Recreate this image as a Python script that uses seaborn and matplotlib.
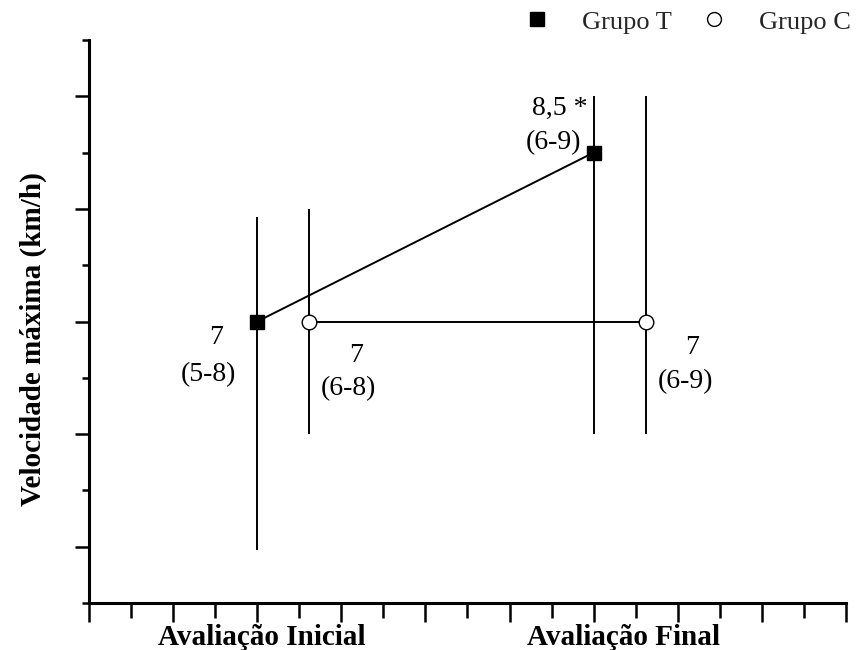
import matplotlib
matplotlib.use("Agg")
import matplotlib.pyplot as plt
from matplotlib.ticker import MultipleLocator
from matplotlib.lines import Line2D
import seaborn as sns
import pandas as pd

sns.set_theme(style="ticks")
plt.rcParams['font.family'] = ['Liberation Serif', 'DejaVu Serif']

# Data
categories = ["Avaliação Inicial", "Avaliação Final"]
cat_pos = [2, 6]
cat_label_pos = [2.05, 6.36]
groups = ["Grupo T", "Grupo C"]
offsets = [0.0, 0.62]
median_T = [7.0, 8.5]
low_T = [4.97, 6.0]
high_T = [7.93, 9.0]
median_C = [7.0, 7.0]
low_C = [6.0, 6.0]
high_C = [8.0, 9.0]
labels_T = [("7", "(5-8)"), ("8,5 *", "(6-9)")]
labels_C = [("7", "(6-8)"), ("7", "(6-9)")]

rows = []
for g, off, med, lo, hi in [("Grupo T", offsets[0], median_T, low_T, high_T),
                            ("Grupo C", offsets[1], median_C, low_C, high_C)]:
    for i, c in enumerate(categories):
        rows.append(dict(grupo=g, x=cat_pos[i] + off, med=med[i], lo=lo[i], hi=hi[i]))
df = pd.DataFrame(rows)

fig = plt.figure(figsize=(8.59, 6.5), dpi=100)
ax = fig.add_axes([89/859, 1-603/650, (846-89)/859, (603-40)/650])

# error ranges
for _, r in df.iterrows():
    ax.vlines(r.x, r.lo, r.hi, color="black", lw=1.4, zorder=1)

sns.lineplot(data=df, x="x", y="med", hue="grupo", style="grupo",
             markers={"Grupo T": "s", "Grupo C": "o"}, dashes=False,
             palette={"Grupo T": "black", "Grupo C": "black"},
             lw=1.4, markersize=10.5, ax=ax, legend=False, zorder=3)
for line, g in zip(ax.lines, groups):
    line.set_markeredgecolor("black")
    line.set_markerfacecolor("black" if g == "Grupo T" else "white")
    line.set_markeredgewidth(1.0)

# annotations
ann_T = [((1.51, 6.86), (1.415, 6.53)), ((5.60, 8.89), (5.52, 8.59))]
ann_C = [((3.175, 6.70), (3.08, 6.40)), ((7.17, 6.77), (7.09, 6.47))]
for (t1, t2), (p1, p2) in zip(labels_T + labels_C, ann_T + ann_C):
    ax.text(p1[0], p1[1], t1, ha="center", va="center", fontsize=20, color="black")
    ax.text(p2[0], p2[1], t2, ha="center", va="center", fontsize=20, color="black")

ax.set_xlim(0, 9)
ax.set_ylim(4.5, 9.5)
ax.xaxis.set_major_locator(MultipleLocator(1))
ax.xaxis.set_minor_locator(MultipleLocator(0.5))
ax.yaxis.set_major_locator(MultipleLocator(1))
ax.yaxis.set_minor_locator(MultipleLocator(0.5))
ax.set_yticklabels([])
ax.set_xticklabels([])
for p, c in zip(cat_label_pos, categories):
    ax.text(p, -0.0746, c, transform=ax.get_xaxis_transform(), ha="center", va="baseline",
            fontsize=21, fontweight="bold", color="black")

ax.tick_params(axis="y", which="major", length=10, width=1.8, direction="out", color="black")
ax.tick_params(axis="y", which="minor", length=5, width=1.8, direction="out", color="black")
ax.tick_params(axis="x", which="major", length=14, width=1.8, direction="out", color="black")
ax.tick_params(axis="x", which="minor", length=11, width=1.8, direction="out", color="black")
sns.despine(ax=ax)
for s in ["left", "bottom"]:
    ax.spines[s].set_linewidth(2.2)
    ax.spines[s].set_color("black")

ax.set_xlabel("")
ax.set_ylabel("Velocidade máxima (km/h)", fontsize=21, fontweight="bold", color="black")
ax.yaxis.set_label_coords(-0.074, 0.469)
ax.yaxis.label.set_va("center")

# legend
handles = [Line2D([], [], ls="none", marker="s", color="black", markersize=10),
           Line2D([], [], ls="none", marker="o", markerfacecolor="white",
                  markeredgecolor="black", markeredgewidth=1.0, markersize=10)]
fig.legend(handles, groups, loc="center right", bbox_to_anchor=(851/859, 1-22/650), ncol=2,
           frameon=False, fontsize=19, handletextpad=1.1, columnspacing=1.0,
           borderaxespad=0.0, borderpad=0.0, handlelength=1.2)

fig.savefig("out.png", dpi=100)
